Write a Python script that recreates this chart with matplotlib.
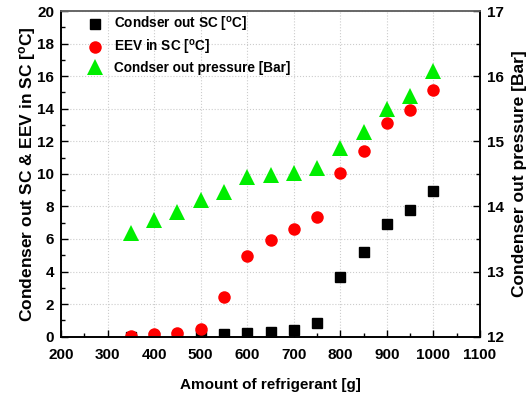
import matplotlib
matplotlib.use("Agg")
import matplotlib.pyplot as plt
from matplotlib.ticker import MultipleLocator

plt.rcParams['font.family'] = ['Liberation Sans', 'DejaVu Sans']
plt.rcParams['font.weight'] = 'bold'
plt.rcParams['mathtext.fontset'] = 'custom'
plt.rcParams['mathtext.rm'] = 'Liberation Sans:bold'
plt.rcParams['mathtext.bf'] = 'Liberation Sans:bold'
plt.rcParams['mathtext.it'] = 'Liberation Sans:bold'

refrigerant = [350, 400, 450, 500, 550, 600, 650, 700, 750, 800, 850, 900, 950, 1000]
condser_sc = [0.0, 0.0, 0.0, 0.1, 0.18, 0.22, 0.27, 0.41, 0.84, 3.64, 5.23, 6.93, 7.79, 8.96]
eev_sc = [0.05, 0.18, 0.23, 0.47, 2.45, 4.93, 5.95, 6.6, 7.32, 10.04, 11.41, 13.11, 13.93, 15.15]
pressure = [13.59, 13.79, 13.92, 14.10, 14.22, 14.45, 14.48, 14.52, 14.59, 14.90, 15.15, 15.50, 15.70, 16.08]

fig = plt.figure(figsize=(5.31, 3.93), dpi=100)
ax = fig.add_axes([61/531, 1-336.7/393, (480-61)/531, (336.7-11)/393])
ax2 = ax.twinx()

h1, = ax.plot(refrigerant, condser_sc, 's', color='black', markersize=7, linestyle='none',
              label=r'Condser out SC [$^{\mathrm{o}}$C]')
h2, = ax.plot(refrigerant, eev_sc, 'o', color='#ff0000', markersize=9, markeredgewidth=0, linestyle='none',
              label=r'EEV in SC [$^{\mathrm{o}}$C]')
h3, = ax2.plot(refrigerant, pressure, '^', color='#00ee00', markersize=11, markeredgewidth=0, linestyle='none',
               label='Condser out pressure [Bar]')

ax.set_xlim(200, 1100)
ax.set_ylim(0, 20)
ax2.set_ylim(12, 17)
ax.xaxis.set_major_locator(MultipleLocator(100))
ax.xaxis.set_minor_locator(MultipleLocator(50))
ax.yaxis.set_major_locator(MultipleLocator(2))
ax.yaxis.set_minor_locator(MultipleLocator(1))
ax2.yaxis.set_major_locator(MultipleLocator(1))
ax2.yaxis.set_minor_locator(MultipleLocator(0.5))

for a in (ax, ax2):
    a.tick_params(which='major', direction='in', length=5, width=1, labelsize=11, pad=5)
    a.tick_params(which='minor', direction='in', length=3, width=1)
    for sp in a.spines.values():
        sp.set_linewidth(1.2)
    a.spines['top'].set_color('#666666')
ax.tick_params(axis='x', pad=8)
ax.grid(True, which='major', linestyle=':', color='#cccccc', linewidth=0.8)
ax.set_axisbelow(True)

ax.set_xlabel('Amount of refrigerant [g]', fontsize=11, fontweight='bold', labelpad=12)
ax.set_ylabel(r'Condenser out SC & EEV in SC [$^{\mathrm{o}}$C]', fontsize=12.5, fontweight='bold',
              labelpad=-1)
ax2.set_ylabel('Condenser out pressure [Bar]', fontsize=12.5, fontweight='bold', labelpad=6)

leg = ax2.legend(handles=[h1, h2, h3], loc='upper left', bbox_to_anchor=(0.054, 1.0),
                 frameon=False, fontsize=9.8, handlelength=1.0, handletextpad=0.9,
                 labelspacing=0.3, borderpad=0.3, borderaxespad=0.0, numpoints=1)
for t in leg.get_texts():
    t.set_fontweight('bold')

fig.savefig('out.png', dpi=100)
